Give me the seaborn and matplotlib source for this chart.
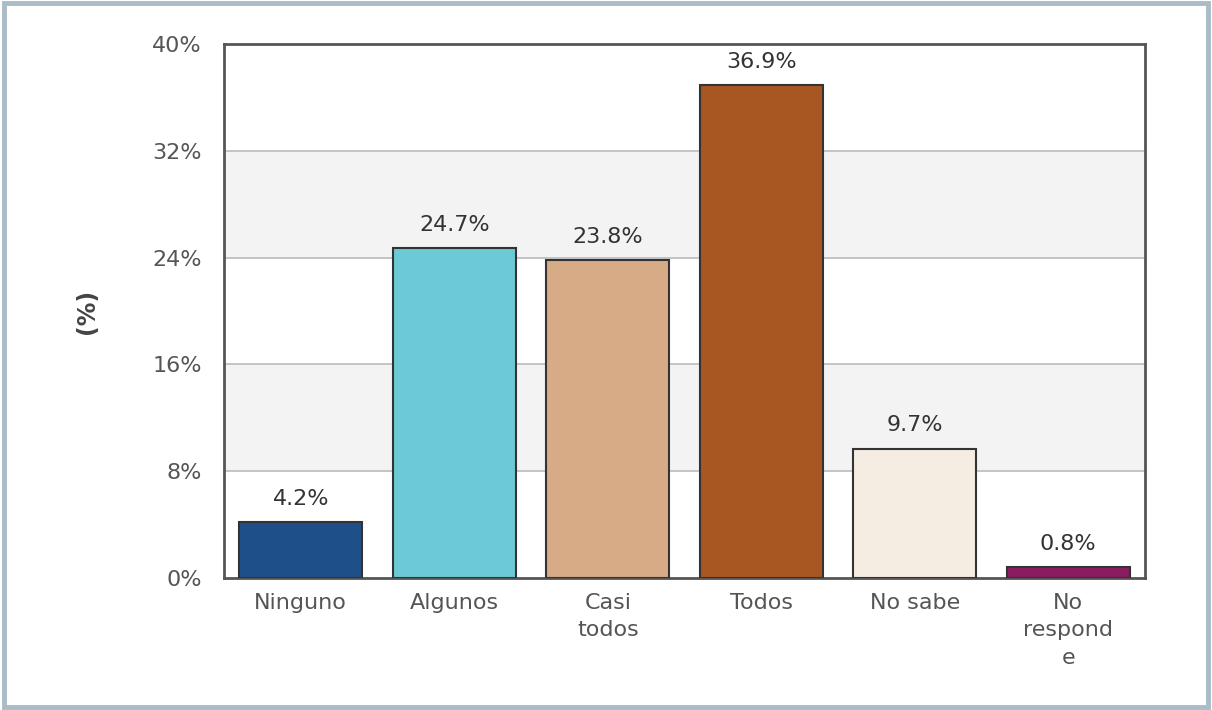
import matplotlib
matplotlib.use("Agg")
import matplotlib.pyplot as plt
import seaborn as sns
import pandas as pd
from matplotlib.patches import Rectangle

categories = ["Ninguno", "Algunos", "Casi\ntodos", "Todos", "No sabe", "No\nrespond\ne"]
values = [4.2, 24.7, 23.8, 36.9, 9.7, 0.8]
labels = ["4.2%", "24.7%", "23.8%", "36.9%", "9.7%", "0.8%"]
colors = ["#1F4F88", "#6CCAD7", "#D6AB86", "#A85722", "#F5ECE2", "#8A1C60"]
yticks = [0, 8, 16, 24, 32, 40]
ytick_labels = ["0%", "8%", "16%", "24%", "32%", "40%"]

sns.set_style("white")
plt.rcParams['font.family'] = ['DejaVu Sans']

fig = plt.figure(figsize=(12.12, 7.10), dpi=100)
ax = fig.add_axes([224/1212, 1 - 578/710, (1145-224)/1212, (578-44)/710])

df = pd.DataFrame({"cat": categories, "val": values})
sns.barplot(data=df, x="cat", y="val", hue="cat", palette=colors, legend=False,
            saturation=1, width=0.8, edgecolor="#333333", linewidth=1.5, ax=ax, zorder=3)

ax.set_ylim(0, 40)
ax.set_xlim(-0.5, 5.5)
# alternating bands
for lo, hi in [(8, 16), (24, 32)]:
    ax.axhspan(lo, hi, color="#F3F3F3", zorder=0, lw=0)
for y in yticks[1:-1]:
    ax.axhline(y, color="#BBBBBB", lw=1.2, zorder=1)

ax.set_yticks(yticks)
ax.set_yticklabels(ytick_labels)
ax.tick_params(axis="y", labelsize=16, labelcolor="#555555", length=0, pad=16)
ax.tick_params(axis="x", labelsize=16, labelcolor="#555555", length=0, pad=11)
ax.set_xlabel("")
ax.set_ylabel("(%)", fontsize=17, color="#444444", fontweight="bold", labelpad=38)
for lab in ax.get_xticklabels():
    lab.set_linespacing(1.45)

for i, (v, t) in enumerate(zip(values, labels)):
    ax.text(i, v + 1.0, t, ha="center", va="bottom", fontsize=16, color="#333333", zorder=4)

for s in ax.spines.values():
    s.set_visible(True)
    s.set_color("#555555")
    s.set_linewidth(2)

# outer frame
fig.patches.append(Rectangle((0.003, 0.004), 0.994, 0.992, transform=fig.transFigure,
                             fill=False, edgecolor="#A8BDC7", linewidth=3.5))

fig.savefig("out.png", dpi=100)
